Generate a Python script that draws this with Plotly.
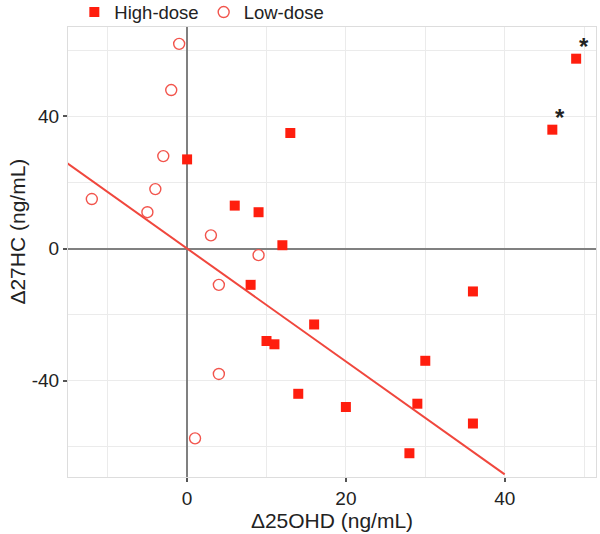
import plotly.graph_objects as go

# High-dose group (squares)
high_x = [13, 0, 6, 9, 12, 8, 16, 10, 11, 36, 30, 14, 20, 29, 36, 28, 49, 46]
high_y = [35, 27, 13, 11, 1, -11, -23, -28, -29, -13, -34, -44, -48, -47, -53, -62, 57.5, 36]

# Low-dose group (open circles)
low_x = [-1, -2, -3, -4, -12, -5, 3, 9, 4, 4, 1]
low_y = [62, 48, 28, 18, 15, 11, 4, -2, -11, -38, -57.5]

# Regression line (slope / intercept) and its x extent
fit_slope = -1.71
fit_intercept = 0.0
fit_x = [-16, 40]
fit_y = [fit_intercept + fit_slope * v for v in fit_x]

# Starred points
star_x = [49, 46]
star_y = [57.5, 36]

x_ticks = [0, 20, 40]
x_tick_labels = ["0", "20", "40"]
y_ticks = [-40, 0, 40]
y_tick_labels = ["-40", "0", "40"]

FONT = "Liberation Sans, Arial"

fig = go.Figure()
fig.add_trace(go.Scatter(
    x=fit_x, y=fit_y, mode="lines", showlegend=False,
    line=dict(color="#F0473D", width=2), hoverinfo="skip"))
fig.add_trace(go.Scatter(
    x=high_x, y=high_y, mode="markers", name="High-dose",
    marker=dict(symbol="square", size=10, color="#FF1E0E",
                line=dict(width=0))))
fig.add_trace(go.Scatter(
    x=low_x, y=low_y, mode="markers", name="Low-dose",
    marker=dict(symbol="circle-open", size=11, color="#F2544C",
                line=dict(width=1.4, color="#F2544C"))))

for sx, sy in zip(star_x, star_y):
    fig.add_annotation(x=sx, y=sy, text="<b>*</b>", showarrow=False,
                       xshift=8, yshift=12,
                       font=dict(size=24, color="#222", family=FONT))

# y-axis title as a rotated annotation (placed like the reference)
fig.add_annotation(text="Δ27HC (ng/mL)", xref="paper", yref="paper",
                   x=-0.095, y=0.545, xanchor="center", yanchor="middle",
                   textangle=-90, showarrow=False,
                   font=dict(size=21, color="#222", family=FONT))

axis_common = dict(
    showline=True, linecolor="#DDDDDD", linewidth=1, mirror=True,
    showgrid=True, gridcolor="#EBEBEB", gridwidth=1,
    zeroline=True, zerolinecolor="#808080", zerolinewidth=2,
    ticks="outside", ticklen=4, tickcolor="#555", tickwidth=1.5,
    tickfont=dict(size=19, color="#222", family=FONT),
    automargin=False,
)

fig.update_layout(
    width=600, height=534,
    margin=dict(l=68, r=4, t=27, b=57, autoexpand=False),
    paper_bgcolor="white", plot_bgcolor="white",
    font=dict(family=FONT, color="#222"),
    showlegend=True,
    legend=dict(orientation="h", x=0.012, xref="paper", xanchor="left",
                y=0.99, yref="paper", yanchor="bottom",
                font=dict(size=18.5, color="#222"),
                bgcolor="rgba(0,0,0,0)", tracegroupgap=0),
    xaxis=dict(range=[-15.0, 51.5], tickvals=x_ticks, ticktext=x_tick_labels,
               minor=dict(dtick=10, tick0=0, showgrid=True, gridcolor="#EBEBEB", ticklen=0),
               title=dict(text="Δ25OHD (ng/mL)", font=dict(size=21), standoff=5),
               **axis_common),
    yaxis=dict(range=[-69.2, 67.1], tickvals=y_ticks, ticktext=y_tick_labels,
               minor=dict(dtick=20, tick0=0, showgrid=True, gridcolor="#EBEBEB", ticklen=0),
               **axis_common),
)

fig.write_html("out.html", config={"displayModeBar": False},
               post_script="document.body.style.margin='0';document.body.style.overflow='hidden';")
